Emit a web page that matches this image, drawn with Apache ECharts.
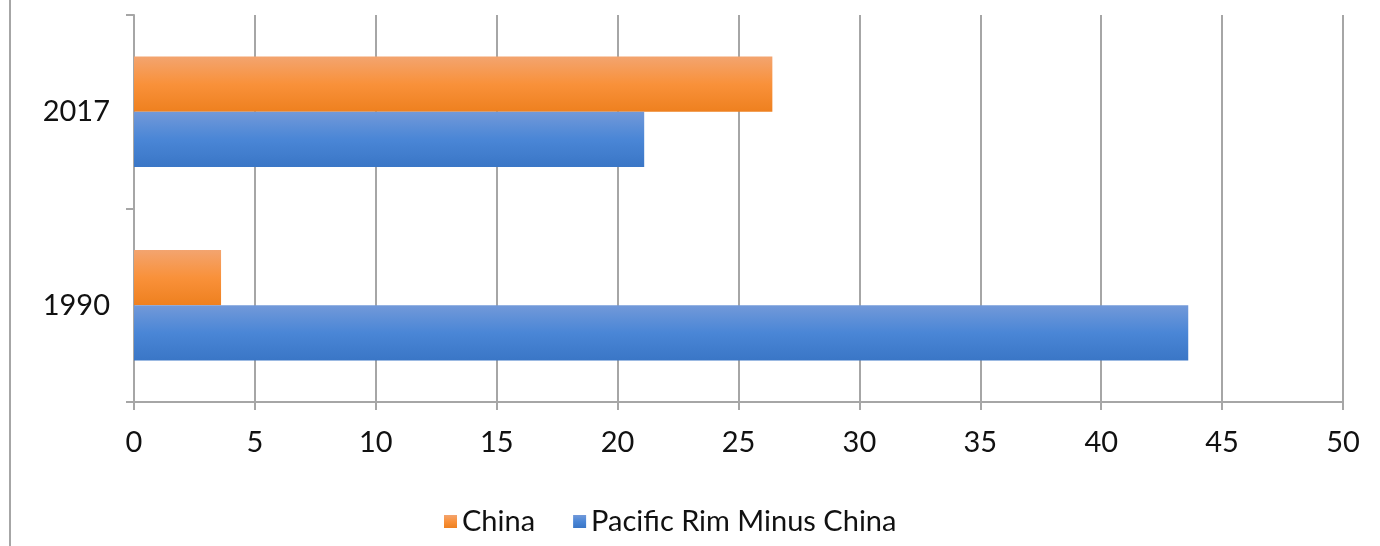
<!DOCTYPE html>
<html>
<head>
<meta charset="utf-8">
<script src="https://cdn.jsdelivr.net/npm/echarts@6/dist/echarts.min.js"></script>
<style>
html,body{margin:0;padding:0;background:#fff;}
#chart{width:1380px;height:546px;}
</style>
</head>
<body>
<div id="chart"></div>
<script>
const categories = ['1990', '2017'];
const chinaValues = [3.6, 26.4];
const pacificValues = [43.6, 21.1];
const seriesNames = ['China', 'Pacific Rim Minus China'];
const xTicks = { min: 0, max: 50, interval: 5 };

const grey = '#A6A6A6';
const font = 'Lato, "Open Sans", sans-serif';

const orange = {
  type: 'linear', x: 0, y: 0, x2: 0, y2: 1,
  colorStops: [
    { offset: 0, color: '#F3A46F' },
    { offset: 0.5, color: '#F9913A' },
    { offset: 1, color: '#EE801F' }
  ]
};
const blue = {
  type: 'linear', x: 0, y: 0, x2: 0, y2: 1,
  colorStops: [
    { offset: 0, color: '#7299D9' },
    { offset: 0.5, color: '#4A86D6' },
    { offset: 1, color: '#3A76C6' }
  ]
};

const chart = echarts.init(document.getElementById('chart'), null, { renderer: 'canvas' });
chart.setOption({
  animation: false,
  backgroundColor: '#fff',
  grid: { left: 134, right: 37, top: 15, bottom: 144, containLabel: false },
  legend: {
    data: seriesNames,
    top: 502,
    left: 439,
    itemWidth: 13,
    itemHeight: 13,
    itemGap: 38,
    icon: 'rect',
    textStyle: { fontFamily: font, fontSize: 29, color: '#111' }
  },
  xAxis: {
    type: 'value',
    min: xTicks.min,
    max: xTicks.max,
    interval: xTicks.interval,
    axisLine: { show: true, lineStyle: { color: grey, width: 2 } },
    axisTick: { show: true, length: 8, lineStyle: { color: grey, width: 2 } },
    splitLine: { show: true, lineStyle: { color: grey, width: 2 } },
    axisLabel: { fontFamily: font, fontSize: 29, color: '#111', margin: 26 }
  },
  yAxis: {
    type: 'category',
    data: categories,
    axisLine: { show: true, lineStyle: { color: grey, width: 2 } },
    axisTick: { show: true, length: 8, lineStyle: { color: grey, width: 2 } },
    splitLine: { show: false },
    axisLabel: { fontFamily: font, fontSize: 29, color: '#111', margin: 24 }
  },
  graphic: [
    {
      type: 'line',
      shape: { x1: 10, y1: 0, x2: 10, y2: 546 },
      style: { stroke: grey, lineWidth: 2 }
    }
  ],
  series: [
    {
      name: seriesNames[0],
      type: 'bar',
      data: chinaValues,
      barGap: '0%',
      barCategoryGap: '43%',
      itemStyle: { color: orange }
    },
    {
      name: seriesNames[1],
      type: 'bar',
      data: pacificValues,
      barGap: '0%',
      barCategoryGap: '43%',
      itemStyle: { color: blue }
    }
  ]
});
</script>
</body>
</html>
